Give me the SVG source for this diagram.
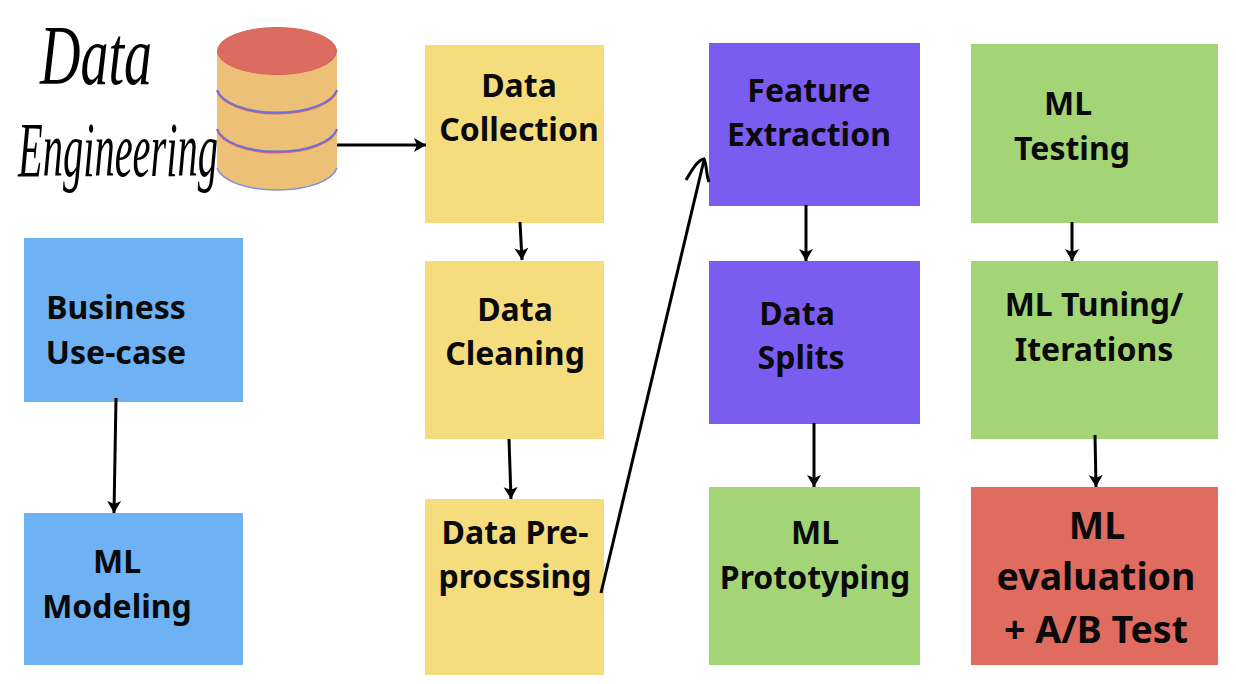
<svg xmlns="http://www.w3.org/2000/svg" width="1236" height="684" viewBox="0 0 1236 684">
<style>
.y{fill:#f5dd7e}.p{fill:#7b5cf0}.g{fill:#a3d576}.b{fill:#6fb2f4}.r{fill:#e06c60}
text{font-family:"Noto Sans","Open Sans","Liberation Sans",sans-serif;font-weight:700;font-size:32px;fill:#0a0a0a;text-anchor:middle}
text.big{font-size:37.5px}
text.hand{font-family:"Liberation Serif",serif;font-style:italic;font-weight:400;text-anchor:start;fill:#000}
text.h1{font-size:84px}
text.h2{font-size:78px}
.c{fill:none;stroke:#000;stroke-width:3}
.ring{fill:none;stroke-width:2}
</style>
<defs><marker id="ah" markerUnits="userSpaceOnUse" markerWidth="14" markerHeight="16" refX="12" refY="8" orient="auto"><path d="M0 1L12 8L0 15L3 8Z" fill="#000"/></marker></defs>
<rect width="1236" height="684" fill="#fff"/>
<g id="database">
<path d="M217 51V167C217 180 244 190 277 190S337 180 337 167V51Z" fill="#ecc076"/>
<path d="M217 168C222 181 246 190 277 190S332 181 337 168" fill="none" stroke="#7a8fec" stroke-width="1.5"/>
<path class="ring" d="M217 91C222 104 246 113.500 277 113.500S332 104 337 91" stroke="#d8646a"/>
<path class="ring" d="M217 90C222 103 246 112.500 277 112.500S332 103 337 90" stroke="#6a70dc"/>
<path class="ring" d="M217 130C222 143 246 152.500 277 152.500S332 143 337 130" stroke="#d8646a"/>
<path class="ring" d="M217 129C222 142 246 151.500 277 151.500S332 142 337 129" stroke="#6a70dc"/>
<ellipse cx="277" cy="51" rx="59.500" ry="23.500" fill="#dc6c60" stroke="#d9605a" stroke-width="1"/>
</g>
<g id="handwriting"><text class="hand h1" x="40" y="84" textLength="112" lengthAdjust="spacingAndGlyphs">Data</text>
<text class="hand h2" x="18" y="176" textLength="200" lengthAdjust="spacingAndGlyphs">Engineering</text></g>
<g id="business"><rect class="b" x="24" y="238" width="219" height="164"/><text x="116" y="319">Business</text><text x="116" y="364">Use-case</text></g>
<g id="modeling"><rect class="b" x="24" y="513" width="219" height="152"/><text x="117" y="573">ML</text><text x="117" y="618">Modeling</text></g>
<g id="collection"><rect class="y" x="425" y="45" width="179" height="178"/><text x="519" y="97">Data</text><text x="519" y="141">Collection</text></g>
<g id="cleaning"><rect class="y" x="425" y="261" width="179" height="178"/><text x="515" y="321">Data</text><text x="515" y="365">Cleaning</text></g>
<g id="preprocessing"><rect class="y" x="425" y="499" width="179" height="176"/><text x="515" y="544">Data Pre-</text><text x="515" y="588">procssing</text></g>
<g id="feature"><rect class="p" x="709" y="43" width="211" height="163"/><text x="809" y="102">Feature</text><text x="809" y="146">Extraction</text></g>
<g id="splits"><rect class="p" x="709" y="261" width="211" height="163"/><text x="797" y="325">Data</text><text x="801" y="369">Splits</text></g>
<g id="prototyping"><rect class="g" x="709" y="487" width="211" height="178"/><text x="815" y="544">ML</text><text x="815" y="589">Prototyping</text></g>
<g id="testing"><rect class="g" x="971" y="44" width="247" height="179"/><text x="1068" y="115">ML</text><text x="1072" y="160">Testing</text></g>
<g id="tuning"><rect class="g" x="971" y="261" width="247" height="178"/><text x="1094" y="316">ML Tuning/</text><text x="1094" y="361">Iterations</text></g>
<g id="evaluation"><rect class="r" x="971" y="487" width="247" height="178"/><text class="big" x="1097" y="539">ML</text><text class="big" x="1096" y="590">evaluation</text><text class="big" x="1096" y="643">+ A/B Test</text></g>
<g id="connectors">
<path class="c" d="M337 145H426" marker-end="url(#ah)"/>
<path class="c" d="M520 222L522 260" marker-end="url(#ah)"/>
<path class="c" d="M509 439L511 499" marker-end="url(#ah)"/>
<path class="c" d="M601 593L704 160"/><path class="c" d="M686 180C693 168 698 160 704 159C707 165 706 175 709 182"/>
<path class="c" d="M806 205V261" marker-end="url(#ah)"/>
<path class="c" d="M814 423V487" marker-end="url(#ah)"/>
<path class="c" d="M1072 222V261" marker-end="url(#ah)"/>
<path class="c" d="M1095 435L1096 487" marker-end="url(#ah)"/>
<path class="c" d="M116 398L114 513" marker-end="url(#ah)"/>
</g>
</svg>
